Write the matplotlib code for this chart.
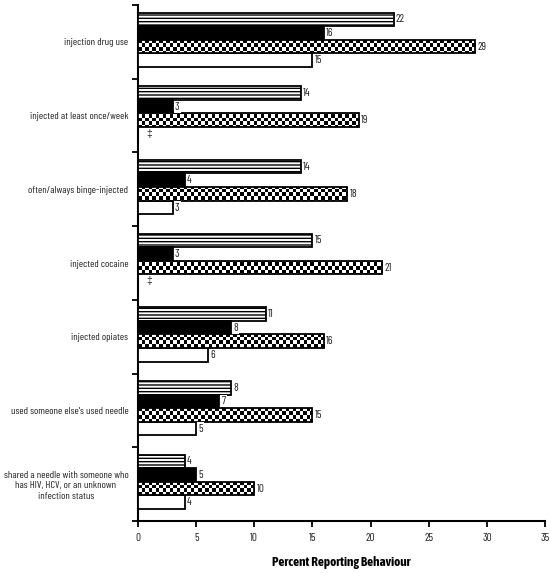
import numpy as np
import matplotlib
matplotlib.use("Agg")
import matplotlib.pyplot as plt

plt.rcParams['font.family'] = ['Barlow Condensed', 'Archivo Narrow', 'Liberation Sans', 'DejaVu Sans']
plt.rcParams['hatch.linewidth'] = 1.0

categories = [
    "injection drug use",
    "injected at least once/week",
    "often/always binge-injected",
    "injected cocaine",
    "injected opiates",
    "used someone else's used needle",
    "shared a needle with someone who\nhas HIV, HCV, or an unknown\ninfection status",
]
series_striped = [22, 14, 14, 15, 11, 8, 4]
series_black = [16, 3, 4, 3, 8, 7, 5]
series_checker = [29, 19, 18, 21, 16, 15, 10]
series_white = [15, None, 3, None, 6, 5, 4]
missing_mark = "\u2021"
x_ticks = [0, 5, 10, 15, 20, 25, 30, 35]
x_label = "Percent Reporting Behaviour"

fig = plt.figure(figsize=(5.5, 5.73), dpi=100)
ax = fig.add_axes([0.251, 0.091, 0.740, 0.900])

n = len(categories)
y = np.arange(n)
h = 0.185
shift = -0.03
offsets = [-1.5 * h, -0.5 * h, 0.5 * h, 1.5 * h]
lw = 1.3
txt_col = '#222222'

def lab(vals, yy):
    for v, yc in zip(vals, yy):
        if v is None:
            ax.annotate(missing_mark, (0, yc), xytext=(6, 0), textcoords='offset points',
                        ha='left', va='center', fontsize=7.5, zorder=6, color=txt_col,
                        family=['Liberation Sans', 'DejaVu Sans'])
        else:
            ax.annotate(str(v), (v, yc), xytext=(1.5, 0), textcoords='offset points',
                        ha='left', va='center', fontsize=8, zorder=6, color=txt_col,
                        bbox=dict(boxstyle='square,pad=0.1', fc='white', ec='none'))

# striped
ys = y + offsets[0] + shift
ax.barh(ys, series_striped, height=h, color='white', edgecolor='black',
        hatch='-----', linewidth=lw, zorder=3)
lab(series_striped, ys)

# black
yb = y + offsets[1] + shift
ax.barh(yb, series_black, height=h, color='black', edgecolor='black', linewidth=lw, zorder=3)
lab(series_black, yb)

# checker
yc_ = y + offsets[2] + shift
bars_c = ax.barh(yc_, series_checker, height=h, color='white', edgecolor='none', zorder=3)
rows, cols = 146, 116
checker = (np.add.outer(np.arange(rows), np.arange(cols)) % 2).astype(float)
for b in bars_c:
    im = ax.imshow(checker, cmap='gray', interpolation='nearest', extent=[0, 1, 0, 1],
                   transform=ax.transAxes, aspect='auto', zorder=3.5, vmin=0, vmax=1)
    im.set_clip_path(b)
ax.barh(yc_, series_checker, height=h, fill=False, edgecolor='black', linewidth=lw, zorder=4)
lab(series_checker, yc_)

# white
yw = y + offsets[3] + shift
wvals = [0 if v is None else v for v in series_white]
ax.barh(yw, wvals, height=h, color='white', edgecolor='black', linewidth=lw, zorder=3)
lab(series_white, yw)

ax.set_xlim(0, 35)
ax.set_ylim(n - 0.5, -0.5)
ax.set_xticks(x_ticks)
ax.set_xticklabels([str(t) for t in x_ticks], fontsize=8, color=txt_col)
ax.set_yticks(y)
ax.set_yticklabels(categories, fontsize=7.5, multialignment='center', color=txt_col)
ax.set_yticks(np.arange(n + 1) - 0.5, minor=True)
ax.tick_params(axis='y', which='major', length=0, pad=7)
ax.tick_params(axis='y', which='minor', length=4, width=1.3, direction='out')
ax.tick_params(axis='x', length=4, width=1.3, direction='out', pad=5)
for s in ['top', 'right']:
    ax.spines[s].set_visible(False)
for s in ['left', 'bottom']:
    ax.spines[s].set_linewidth(1.5)
ax.set_xlabel(x_label, fontsize=9.5, fontweight='bold', labelpad=9,
              family=['Asap Condensed', 'Archivo Narrow', 'DejaVu Sans'])

fig.savefig("out.png", dpi=100)
